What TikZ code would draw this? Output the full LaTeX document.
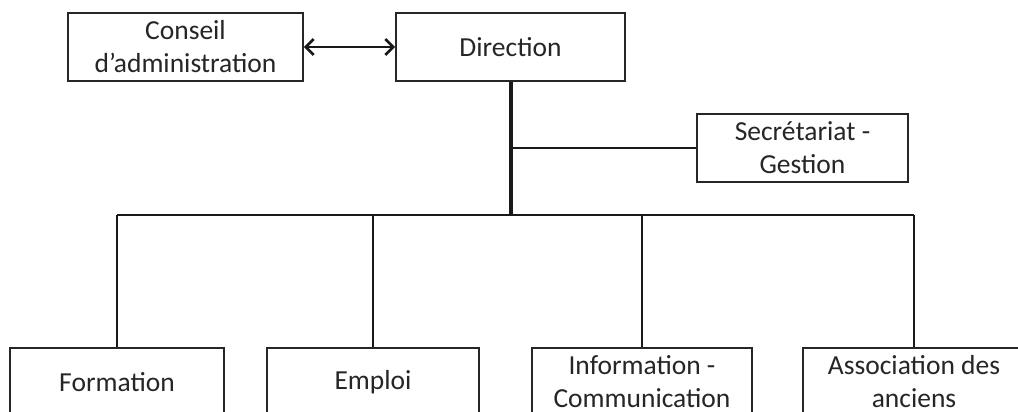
\documentclass[tikz,border=0pt]{standalone}
\usepackage{fontspec}
\setmainfont{Carlito}
\usetikzlibrary{arrows.meta}
\begin{document}
\begin{tikzpicture}[x=1pt,y=-1pt,
  box/.style={draw=black!85,line width=1.6pt,fill=white,align=center,inner sep=0pt,
    font=\fontsize{27.5}{33}\selectfont,text=black!85},
  conn/.style={line width=2.7pt,draw=black!90},
  trunk/.style={line width=4pt,draw=black!90}]
\useasboundingbox (0,0) rectangle (1018,412);
\clip (0,0) rectangle (1018,412);
\node[box,minimum width=235pt,minimum height=68pt] (cons) at (185.5,47) {Conseil\\d’administration};
\node[box,minimum width=229pt,minimum height=68pt] (dir) at (510.5,47) {Direction};
\node[box,minimum width=211pt,minimum height=68pt] (sec) at (802.5,148) {Secrétariat -\\Gestion};
\node[box,minimum width=214pt,minimum height=68pt] (form) at (117,382) {Formation};
\node[box,minimum width=212pt,minimum height=68pt] (empl) at (373,382) {Emploi};
\node[box,minimum width=220pt,minimum height=68pt] (info) at (642,382) {Information -\\Communication};
\node[box,minimum width=222pt,minimum height=68pt] (assoc) at (914,382) {Association des\\anciens};
\coordinate (bus) at (510.5,215);
\draw[conn,{Straight Barb[length=8pt,width=16pt]}-{Straight Barb[length=8pt,width=16pt]}] (cons.east) -- (dir.west);
\draw[trunk] (dir.south) -- (bus);
\draw[conn] (dir.south |- sec.west) -- (sec.west);
\draw[conn] (form.north |- bus) -- (assoc.north |- bus);
\draw[conn] (form.north |- bus) -- (form.north);
\draw[conn] (empl.north |- bus) -- (empl.north);
\draw[conn] (info.north |- bus) -- (info.north);
\draw[conn] (assoc.north |- bus) -- (assoc.north);
\end{tikzpicture}
\end{document}
